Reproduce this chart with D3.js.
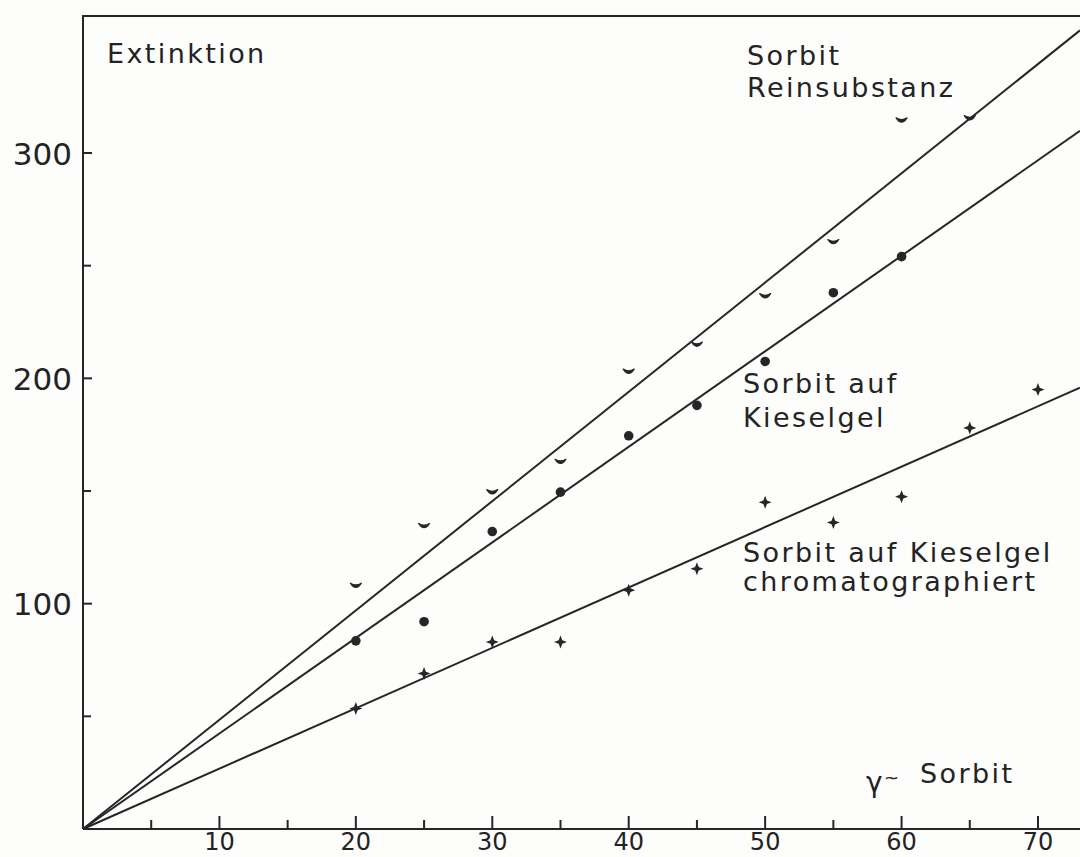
<!DOCTYPE html>
<html>
<head>
<meta charset="utf-8">
<script src="https://cdn.jsdelivr.net/npm/d3@7"></script>
<style>
  html, body { margin: 0; padding: 0; background: #fdfdfc; }
  svg { display: block; }
  text { font-family: "DejaVu Sans", sans-serif; fill: #232323; }
</style>
</head>
<body>
<script>
const WIDTH = 1080;
const HEIGHT = 857;
const INK = "#262626";

// Sorbit amount (gamma) on the x axis.
const amounts = [20, 25, 30, 35, 40, 45, 50, 55, 60, 65, 70];

// Extinktion readings, one array per series (null = no point).
const reinsubstanz = [108, 134.5, 149.5, 163, 203, 215, 236.5, 260.5, 314.5, 315.5, null];
const aufKieselgel = [83.5, 92, 132, 149.5, 174.5, 188, 207.5, 238, 254, null, null];
const chromatographiert = [53.5, 69, 83, 83, 106, 115.5, 145, 136, 147.5, 178, 195];

// Slopes of the fitted straight lines through the origin.
const lineSlopes = [4.85, 4.24, 2.68];

const xTicks = [5, 10, 15, 20, 25, 30, 35, 40, 45, 50, 55, 60, 65, 70];
const xLabels = [10, 20, 30, 40, 50, 60, 70];
const yTicks = [50, 100, 150, 200, 250, 300];
const yLabels = [100, 200, 300];

const x = d3.scaleLinear().domain([0, 70]).range([83, 1038]);
const y = d3.scaleLinear().domain([0, 300]).range([829, 153]);
const xMax = x.invert(WIDTH);
const yMax = y.invert(16);

const svg = d3.select("body").append("svg")
    .attr("width", WIDTH).attr("height", HEIGHT);

// Axes drawn by hand so the ticks point inwards like the original.
const axes = svg.append("g").attr("stroke", INK).attr("stroke-width", 2).attr("fill", "none");
axes.append("line")
    .attr("x1", x(0)).attr("x2", x(xMax)).attr("y1", y(0)).attr("y2", y(0));
axes.append("line")
    .attr("x1", x(0)).attr("x2", x(0)).attr("y1", y(0)).attr("y2", y(yMax));
axes.append("line")
    .attr("x1", x(0) - 1).attr("x2", x(xMax)).attr("y1", y(yMax)).attr("y2", y(yMax));

axes.selectAll(".xt").data(xTicks).enter().append("line")
    .attr("x1", d => x(d)).attr("x2", d => x(d))
    .attr("y1", y(0)).attr("y2", d => y(0) - (d % 10 === 0 ? 13 : 9));
axes.selectAll(".yt").data(yTicks).enter().append("line")
    .attr("y1", d => y(d)).attr("y2", d => y(d))
    .attr("x1", x(0)).attr("x2", d => x(0) + (d % 100 === 0 ? 9 : 8));

svg.selectAll(".xl").data(xLabels).enter().append("text")
    .attr("x", d => x(d)).attr("y", 850)
    .attr("text-anchor", "middle").attr("font-size", 24)
    .text(d => d);
svg.selectAll(".yl").data(yLabels).enter().append("text")
    .attr("x", 72).attr("y", d => y(d) + 11.5)
    .attr("text-anchor", "end").attr("font-size", 31)
    .text(d => d);

// Fitted lines from the origin.
svg.append("g").selectAll("line").data(lineSlopes).enter().append("line")
    .attr("x1", x(0)).attr("y1", y(0))
    .attr("x2", x(xMax)).attr("y2", d => y(d * xMax))
    .attr("stroke", INK).attr("stroke-width", 2);

function points(values) {
    return amounts.map((a, i) => ({a: a, v: values[i]})).filter(d => d.v !== null);
}

// Reinsubstanz: small crescent marks.
svg.append("g").selectAll("path").data(points(reinsubstanz)).enter().append("path")
    .attr("transform", d => `translate(${x(d.a)},${y(d.v)})`)
    .attr("d", "M-5.5,-2.5 Q0,6 5.5,-2.5 Q0,1 -5.5,-2.5Z")
    .attr("fill", INK).attr("stroke", INK).attr("stroke-width", 1.2)
    .attr("stroke-linejoin", "round");

// Auf Kieselgel: filled dots.
svg.append("g").selectAll("circle").data(points(aufKieselgel)).enter().append("circle")
    .attr("cx", d => x(d.a)).attr("cy", d => y(d.v)).attr("r", 4.8)
    .attr("fill", INK);

// Chromatographiert: four pointed stars.
svg.append("g").selectAll("path").data(points(chromatographiert)).enter().append("path")
    .attr("transform", d => `translate(${x(d.a)},${y(d.v)})`)
    .attr("d", "M0,-6.5 L1.8,-1.8 L6.5,0 L1.8,1.8 L0,6.5 L-1.8,1.8 L-6.5,0 L-1.8,-1.8Z")
    .attr("fill", INK);

// Labels.
const labels = [
    {t: "Extinktion", x: 107, y: 63},
    {t: "Sorbit", x: 747, y: 65},
    {t: "Reinsubstanz", x: 747, y: 97},
    {t: "Sorbit auf", x: 743, y: 393},
    {t: "Kieselgel", x: 743, y: 427},
    {t: "Sorbit auf Kieselgel", x: 743, y: 562},
    {t: "chromatographiert", x: 743, y: 591},
    {t: "Sorbit", x: 920, y: 783}
];
svg.selectAll(".lab").data(labels).enter().append("text")
    .attr("x", d => d.x).attr("y", d => d.y)
    .attr("font-size", 27).attr("letter-spacing", 2.4)
    .text(d => d.t);

svg.append("text")
    .attr("x", 866).attr("y", 792)
    .attr("font-size", 28)
    .text("γ");
svg.append("text")
    .attr("x", 884).attr("y", 784)
    .attr("font-size", 18)
    .text("~");
</script>
</body>
</html>
